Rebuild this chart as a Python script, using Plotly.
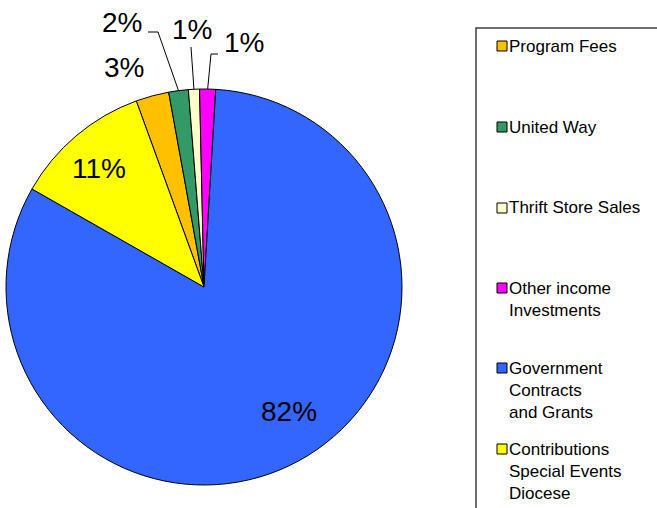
import math
import plotly.graph_objects as go

# ---- data ----
labels = ["Program Fees", "United Way", "Thrift Store Sales", "Other income Investments",
          "Government Contracts and Grants", "Contributions Special Events Diocese"]
legend_text = ["Program Fees", "United Way", "Thrift Store Sales", "Other income<br>Investments",
               "Government<br>Contracts<br>and Grants", "Contributions<br>Special Events<br>Diocese"]
values = [2.7, 1.6, 0.9, 1.3, 82.3, 11.2]
pct_labels = ["3%", "2%", "1%", "1%", "82%", "11%"]
colors = ["#FFC000", "#339966", "#FFFFCC", "#FF00FF", "#3366FF", "#FFFF00"]

# ---- layout constants ----
W, H = 657, 508
CX, CY, R = 204, 287, 198
ROT = -20
FONT = "Liberation Sans, Arial, sans-serif"

# label placement (angle nudge in degrees, radius factor)
label_style = [(-5, 1.18), (-9.8, 1.40), (0.2, 1.30), (8.2, 1.25), (-6, 0.76), (-1.3, 0.80)]
# leader elbows in px for small slices (index -> list of points after edge point)
leaders = {1: [(158, 32), (148, 32)], 2: [(191, 47)], 3: [(211, 54), (218, 54)]}


def px(x, y):
    return x / W, 1 - y / H


fig = go.Figure(go.Pie(
    labels=labels, values=values, sort=False, direction="clockwise", rotation=ROT,
    marker=dict(colors=colors, line=dict(color="black", width=1)),
    textinfo="none", hoverinfo="label+percent", showlegend=False,
    domain=dict(x=[(CX - R) / W, (CX + R) / W], y=[(H - CY - R) / H, (H - CY + R) / H]),
))

total = sum(values)
ang = ROT
mids = []
for v in values:
    a = v / total * 360
    mids.append(ang + a / 2)
    ang += a

annotations = []
shapes = []
for i, (m, lab) in enumerate(zip(mids, pct_labels)):
    nudge, rf = label_style[i]
    t = math.radians(m + nudge)
    lx = CX + rf * R * math.sin(t)
    ly = CY - rf * R * math.cos(t)
    x, y = px(lx, ly)
    annotations.append(dict(x=x, y=y, xref="paper", yref="paper", text=lab, showarrow=False,
                            font=dict(family=FONT, size=28, color="black"),
                            xanchor="center", yanchor="middle"))
    if i in leaders:
        tm = math.radians(m)
        pts = [(CX + R * math.sin(tm), CY - R * math.cos(tm))] + leaders[i]
        for (x0, y0), (x1, y1) in zip(pts[:-1], pts[1:]):
            a0 = px(x0, y0)
            a1 = px(x1, y1)
            shapes.append(dict(type="line", xref="paper", yref="paper", x0=a0[0], y0=a0[1],
                               x1=a1[0], y1=a1[1], line=dict(color="black", width=1)))

# ---- legend (manual) ----
bx0, by0 = px(476, 28)
shapes.append(dict(type="rect", xref="paper", yref="paper", x0=bx0, y0=-0.1, x1=1.2, y1=by0,
                   line=dict(color="#404040", width=1.5), fillcolor="rgba(0,0,0,0)"))
first_y = [46, 127, 208, 288, 368, 449]
LH = 22
for i, (txt, c) in enumerate(zip(legend_text, colors)):
    fy = first_y[i]
    s0 = px(497, fy - 5)
    s1 = px(507, fy + 5)
    shapes.append(dict(type="rect", xref="paper", yref="paper", x0=s0[0], y0=s1[1], x1=s1[0], y1=s0[1],
                       line=dict(color="black", width=1), fillcolor=c))
    n = txt.count("<br>") + 1
    tx, ty = px(507, fy + (n - 1) * LH / 2)
    annotations.append(dict(x=tx, y=ty, xref="paper", yref="paper", text=txt, showarrow=False,
                            align="left", xanchor="left", yanchor="middle",
                            font=dict(family=FONT, size=17, color="black")))

fig.update_layout(width=W, height=H, margin=dict(l=0, r=0, t=0, b=0),
                  paper_bgcolor="white", plot_bgcolor="white",
                  annotations=annotations, shapes=shapes)
fig.write_html("out.html")
